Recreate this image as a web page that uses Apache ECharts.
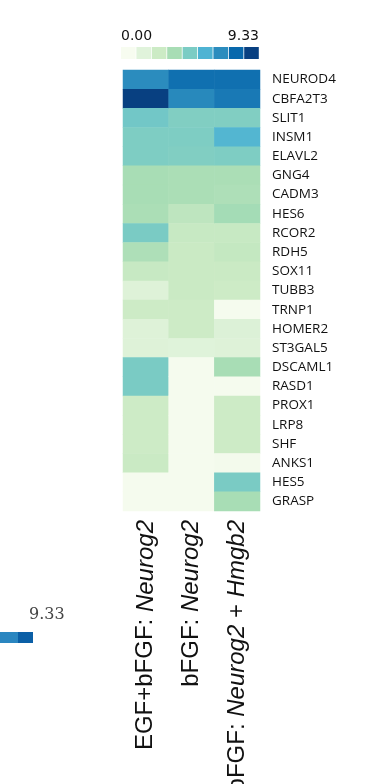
<!DOCTYPE html>
<html>
<head>
<meta charset="utf-8">
<script src="https://cdn.jsdelivr.net/npm/echarts@6/dist/echarts.min.js"></script>
<style>
html,body{margin:0;padding:0;background:#fff;}
#c{width:366px;height:784px;}
</style>
</head>
<body>
<div id="c"></div>
<script>
// ---- data ----
const genes = ['NEUROD4','CBFA2T3','SLIT1','INSM1','ELAVL2','GNG4','CADM3','HES6','RCOR2','RDH5','SOX11','TUBB3','TRNP1','HOMER2','ST3GAL5','DSCAML1','RASD1','PROX1','LRP8','SHF','ANKS1','HES5','GRASP'];
const conditions = ['EGF+bFGF: |Neurog2', 'bFGF: |Neurog2', 'bFGF: |Neurog2| + |Hmgb2'];
const egfBfgfNeurog2 = [7.0, 9.33, 4.9, 4.6, 4.6, 3.5, 3.5, 3.4, 4.7, 3.3, 2.5, 1.3, 2.3, 1.3, 1.3, 4.7, 4.7, 2.3, 2.3, 2.3, 2.4, 0.1, 0.1];
const bfgfNeurog2 = [7.9, 7.1, 4.5, 4.6, 4.5, 3.4, 3.4, 2.8, 2.5, 2.4, 2.4, 2.4, 2.3, 2.3, 1.2, 0.1, 0.1, 0.1, 0.1, 0.1, 0.1, 0.1, 0.1];
const bfgfNeurog2Hmgb2 = [7.9, 7.6, 4.5, 5.7, 4.6, 3.4, 3.3, 3.6, 2.5, 2.6, 2.4, 2.3, 0.1, 1.4, 1.3, 3.5, 0.1, 2.3, 2.3, 2.3, 0.2, 4.7, 3.5];
const scaleMin = 0, scaleMax = 9.33;
const legendLabels = ['0.00', '9.33'];
const palette = ['#f7fcf0','#e0f3db','#ccebc5','#a8ddb5','#7bccc4','#4eb3d3','#2b8cbe','#0868ac','#084081'];

// ---- build ----
const columns = [egfBfgfNeurog2, bfgfNeurog2, bfgfNeurog2Hmgb2];
const cells = [];
columns.forEach((col, ci) => col.forEach((v, gi) => cells.push([ci, gi, v])));
const step = (scaleMax - scaleMin) / palette.length;
const pieces = palette.map((c, i) => ({min: scaleMin + i * step, max: scaleMin + (i + 1) * step, color: c}));

const chart = echarts.init(document.getElementById('c'), null, {renderer: 'canvas'});
chart.setOption({
  backgroundColor: '#fff',
  animation: false,
  grid: {left: 123, top: 70, width: 137, height: 441, containLabel: false, outerBoundsMode: 'none'},
  xAxis: {
    type: 'category',
    data: conditions,
    position: 'bottom',
    axisLine: {show: false}, axisTick: {show: false}, splitLine: {show: false},
    axisLabel: {
      rotate: 90, margin: 9, interval: 0,
      fontFamily: 'Liberation Sans', fontSize: 24, color: '#111',
      formatter: function (val) {
        const parts = val.split('|');
        return parts.map((p, i) => (i % 2 === 1 ? '{i|' + p + '}' : '{n|' + p + '}')).join('');
      },
      rich: {
        n: {fontFamily: 'Liberation Sans', fontSize: 24, color: '#111'},
        i: {fontFamily: 'Liberation Sans', fontSize: 24, fontStyle: 'italic', color: '#111'}
      }
    }
  },
  yAxis: {
    type: 'category',
    data: genes,
    inverse: true,
    position: 'right',
    axisLine: {show: false}, axisTick: {show: false}, splitLine: {show: false},
    axisLabel: {margin: 12, interval: 0, fontFamily: 'Open Sans', fontSize: 13.5, color: '#111'}
  },
  visualMap: [
    {
      type: 'continuous', show: false, seriesIndex: 0,
      min: scaleMin, max: scaleMax,
      inRange: {color: palette}
    },
    {
      type: 'piecewise', seriesIndex: 1, orient: 'horizontal',
      left: 121, top: 47, padding: 0, itemWidth: 14.6, itemHeight: 12, itemGap: 0.8,
      itemSymbol: 'rect', showLabel: false, selectedMode: false,
      pieces: pieces
    }
  ],
  graphic: [
    {type: 'text', left: 121, top: 29, style: {text: legendLabels[0], font: '14px "DejaVu Sans"', fill: '#111'}},
    {type: 'text', right: 366 - 259, top: 29, style: {text: legendLabels[1], font: '14px "DejaVu Sans"', fill: '#111', textAlign: 'right'}},
    {type: 'text', left: 29, top: 607, style: {text: legendLabels[1], font: '16px "DejaVu Serif"', fill: '#444'}},
    {type: 'rect', left: 0, top: 632, shape: {width: 18, height: 11}, style: {fill: '#2a86c0'}},
    {type: 'rect', left: 18, top: 632, shape: {width: 15, height: 11}, style: {fill: '#0b5fa6'}}
  ],
  series: [
    {type: 'heatmap', data: cells, itemStyle: {borderWidth: 0}, emphasis: {disabled: true}},
    {type: 'heatmap', data: []}
  ]
});
</script>
</body>
</html>
